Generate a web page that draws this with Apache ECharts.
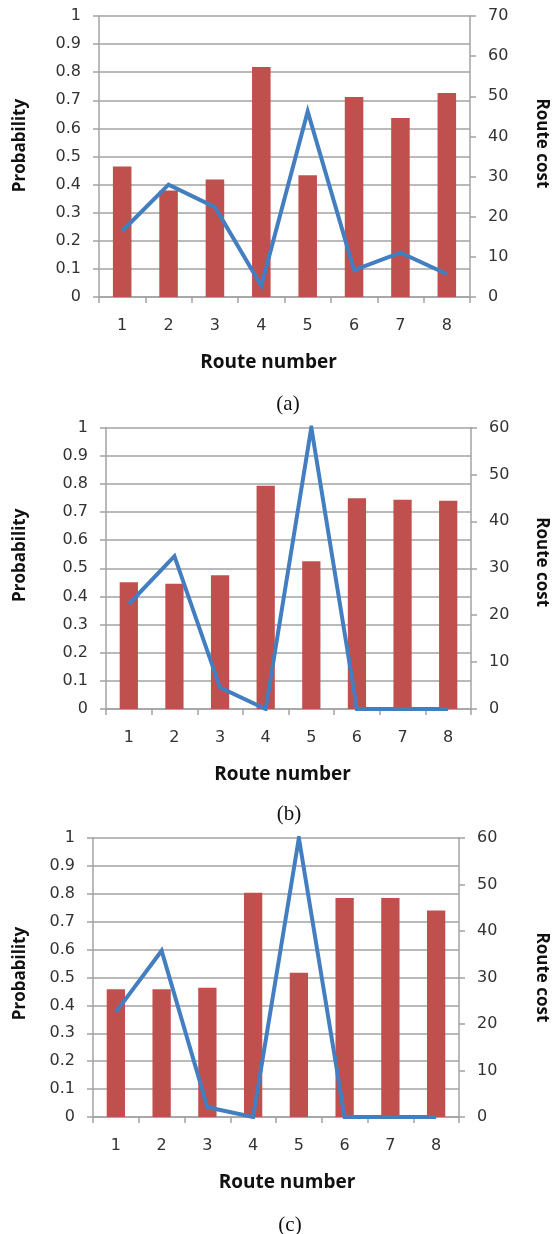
<!DOCTYPE html>
<html>
<head>
<meta charset="utf-8">
<script src="https://cdn.jsdelivr.net/npm/echarts@6/dist/echarts.min.js"></script>
<style>
html,body{margin:0;padding:0;background:#fff;}
#chart{width:558px;height:1234px;}
</style>
</head>
<body>
<div id="chart"></div>
<script>
// ---- data ----
const routes = ['1', '2', '3', '4', '5', '6', '7', '8'];
// (a)
const costA = [32.5, 26.5, 29.3, 57.3, 30.3, 49.8, 44.6, 50.8];
const probA = [0.235, 0.40, 0.32, 0.04, 0.66, 0.096, 0.158, 0.082];
// (b)
const costB = [27.0, 26.7, 28.5, 47.6, 31.5, 44.9, 44.6, 44.4];
const probB = [0.373, 0.543, 0.076, 0, 1.0, 0, 0, 0];
// (c)
const costC = [27.5, 27.5, 27.8, 48.2, 31.0, 47.1, 47.1, 44.4];
const probC = [0.376, 0.596, 0.035, 0, 1.0, 0, 0, 0];
// axis ranges
const probMax = [1, 1, 1];
const probStep = [0.1, 0.1, 0.1];
const costMax = [70, 60, 60];
const costStep = [10, 10, 10];
const captions = ['(a)', '(b)', '(c)'];
const xName = 'Route number';
const leftName = 'Probability';
const rightName = 'Route cost';

// ---- layout ----
const panels = [
  {left: 99, right: 79, top: 16, height: 281, lGap: 70, rGap: 63, lPad: 22, rPad: 26, xPad: [0, 32, 0, 0], capX: 283, capY: 401},
  {left: 106, right: 78, top: 427.5, height: 281.5, lGap: 77, rGap: 62, lPad: 26, rPad: 12, xPad: [0, 12, 0, 0], capX: 284, capY: 811},
  {left: 93, right: 90, top: 838, height: 279, lGap: 64, rGap: 74, lPad: 8, rPad: 0, xPad: [0, 0, 0, 22], capX: 285, capY: 1222}
];
const costs = [costA, costB, costC];
const probs = [probA, probB, probC];

const gray = '#A3A3A3';
const labelStyle = {fontFamily: 'DejaVu Sans', fontSize: 16, color: '#333'};
const nameFont = {fontFamily: 'Open Sans', fontWeight: 'bold', color: '#111'};

const option = {
  backgroundColor: '#fff',
  animation: false,
  title: [], grid: [], xAxis: [], yAxis: [], series: []
};

panels.forEach((p, i) => {
  option.grid.push({left: p.left, right: p.right, top: p.top, height: p.height, containLabel: false});
  option.title.push({
    text: captions[i], left: p.capX, top: p.capY - 12, textAlign: 'center',
    textStyle: {fontFamily: 'Liberation Serif', fontWeight: 'normal', fontSize: 21, color: '#111'}
  });
  option.xAxis.push({
    type: 'category', gridIndex: i, data: routes,
    name: xName, nameLocation: 'middle', nameGap: 56,
    nameTextStyle: Object.assign({fontSize: 19, padding: p.xPad}, nameFont),
    axisLine: {lineStyle: {color: gray, width: 1.5}},
    axisTick: {show: true, length: 6, lineStyle: {color: gray, width: 1.5}},
    axisLabel: Object.assign({margin: 21}, labelStyle)
  });
  option.yAxis.push({
    type: 'value', gridIndex: i, min: 0, max: probMax[i], interval: probStep[i],
    name: leftName, nameLocation: 'middle', nameGap: p.lGap, nameRotate: 90,
    nameTextStyle: Object.assign({fontSize: 17, padding: [0, 0, 0, p.lPad]}, nameFont),
    axisLine: {show: true, lineStyle: {color: gray, width: 1.5}},
    axisTick: {show: true, length: 6, lineStyle: {color: gray, width: 1.5}},
    splitLine: {show: true, lineStyle: {color: gray, width: 1.5}},
    axisLabel: Object.assign({margin: 18}, labelStyle)
  });
  option.yAxis.push({
    type: 'value', gridIndex: i, position: 'right', min: 0, max: costMax[i], interval: costStep[i],
    name: rightName, nameLocation: 'middle', nameGap: p.rGap, nameRotate: -90,
    nameTextStyle: Object.assign({fontSize: 17, padding: [0, p.rPad, 0, 0]}, nameFont),
    axisLine: {show: true, lineStyle: {color: gray, width: 1.5}},
    axisTick: {show: true, length: 6, lineStyle: {color: gray, width: 1.5}},
    splitLine: {show: false},
    axisLabel: Object.assign({margin: 18}, labelStyle)
  });
  option.series.push({
    type: 'bar', xAxisIndex: i, yAxisIndex: 2 * i + 1, data: costs[i],
    barWidth: '40%', itemStyle: {color: '#C0504D'}, z: 2
  });
  option.series.push({
    type: 'line', xAxisIndex: i, yAxisIndex: 2 * i, data: probs[i],
    showSymbol: false, symbol: 'none',
    lineStyle: {color: '#437EC0', width: 4, join: 'miter'}, z: 3
  });
});

const chart = echarts.init(document.getElementById('chart'), null, {renderer: 'canvas'});
chart.setOption(option);
</script>
</body>
</html>
